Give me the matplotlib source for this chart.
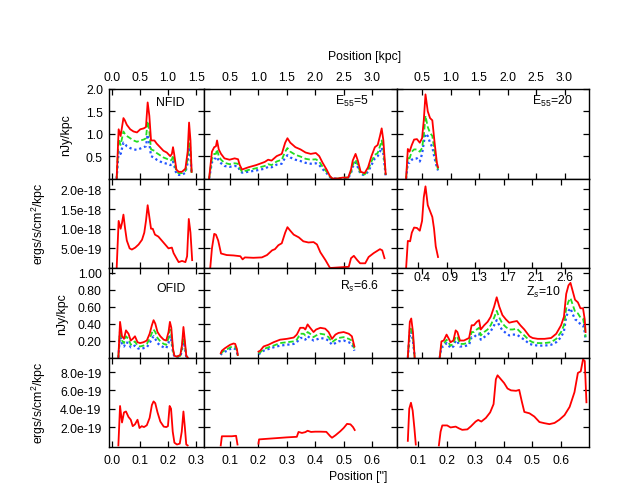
import numpy as np
import matplotlib
matplotlib.use('Agg')
import matplotlib.pyplot as plt

plt.rcParams['font.family'] = ['Liberation Sans', 'DejaVu Sans']
plt.rcParams['font.size'] = 8.8
plt.rcParams['mathtext.fontset'] = 'custom'
plt.rcParams['mathtext.rm'] = 'Liberation Sans'
plt.rcParams['mathtext.it'] = 'Liberation Sans:italic'

nan = np.nan

# ---- row 1: flux density [nJy/kpc], x in arcsec ----
nfid_x = [0.018, 0.025, 0.032, 0.042, 0.047, 0.054, 0.066, 0.078, 0.090, 0.102,
          0.114, 0.122, 0.128, 0.134, 0.140, 0.152, 0.160, 0.172, 0.184, 0.196,
          0.208, 0.214, 0.218, 0.222, 0.230, 0.238, 0.250, 0.262, 0.270, 0.275,
          0.280, 0.284]
nfid_red = [0, 1.10, 0.95, 1.35, 1.30, 1.20, 1.10, 1.05, 1.03, 1.10,
            1.12, 1.15, 1.70, 1.40, 0.85, 0.85, 0.78, 0.70, 0.62, 0.58,
            0.50, 0.55, 0.70, 0.55, 0.20, 0.15, 0.15, 0.22, 0.60, 1.25,
            0.85, 0.15]
nfid_green = [0, 0.88, 0.75, 1.05, 1.00, 0.95, 0.90, 0.85, 0.82, 0.85,
              0.87, 0.90, 1.28, 1.05, 0.65, 0.62, 0.57, 0.52, 0.47, 0.44,
              0.40, 0.42, 0.52, 0.42, 0.15, 0.12, 0.12, 0.17, 0.45, 0.92,
              0.65, 0.12]
nfid_blue = [0, 0.62, 0.55, 0.80, 0.78, 0.72, 0.68, 0.65, 0.64, 0.67,
             0.70, 0.72, 0.98, 0.78, 0.50, 0.46, 0.42, 0.38, 0.35, 0.33,
             0.30, 0.32, 0.38, 0.30, 0.10, 0.08, 0.08, 0.13, 0.35, 0.70,
             0.50, 0.10]

e5_x = [0.026, 0.036, 0.044, 0.050, 0.054, 0.060, 0.068, 0.080, 0.098, 0.116,
        0.128, 0.134, 0.142, 0.164, 0.192, 0.222, 0.234, 0.246, 0.264, 0.282,
        0.294, 0.302, 0.312, 0.330, 0.348, 0.366, 0.384, 0.402, 0.414, 0.426,
        0.440, 0.452, 0.460, 0.480, 0.496, 0.516, 0.526, 0.532, 0.542, 0.550,
        0.560, 0.574, 0.586, 0.598, 0.610, 0.620, 0.628, 0.634, 0.640, 0.646,
        0.648]
e5_red = [0, 0.60, 0.70, 0.72, 0.85, 0.65, 0.55, 0.45, 0.42, 0.45,
          0.43, 0.30, 0.20, 0.25, 0.30, 0.37, 0.42, 0.40, 0.50, 0.55,
          0.80, 0.90, 0.80, 0.70, 0.65, 0.58, 0.55, 0.57, 0.50, 0.35,
          0.20, 0.05, 0, 0, 0.02, 0.02, 0.20, 0.40, 0.55, 0.40,
          0.15, 0.12, 0.25, 0.50, 0.70, 0.75, 0.95, 1.12, 0.85, 0.30,
          0.10]
e5_green = [0, 0.45, 0.55, 0.55, 0.65, 0.50, 0.42, 0.35, 0.32, 0.34,
            0.33, 0.23, 0.15, 0.19, 0.23, 0.28, 0.32, 0.30, 0.38, 0.42,
            0.60, 0.68, 0.60, 0.53, 0.49, 0.44, 0.42, 0.43, 0.38, 0.26,
            0.15, 0.04, 0, 0, 0.02, 0.02, 0.15, 0.30, 0.42, 0.30,
            0.11, 0.09, 0.19, 0.38, 0.53, 0.57, 0.72, 0.85, 0.65, 0.23,
            0.08]
e5_blue = [0, 0.36, 0.44, 0.45, 0.48, 0.40, 0.34, 0.28, 0.26, 0.28,
           0.27, 0.18, 0.13, 0.15, 0.18, 0.22, 0.26, 0.25, 0.31, 0.33,
           0.47, 0.52, 0.47, 0.42, 0.39, 0.35, 0.33, 0.34, 0.30, 0.21,
           0.12, 0.03, 0, 0, 0.01, 0.01, 0.12, 0.26, 0.36, 0.25,
           0.09, 0.08, 0.15, 0.30, 0.45, 0.50, 0.60, 0.69, 0.55, 0.19,
           0.06]

e20_x = [0.058, 0.064, 0.070, 0.078, 0.086, 0.096, 0.106, 0.114, 0.120, 0.126,
         0.134, 0.142, 0.150, 0.158, 0.166, 0.170]
e20_red = [0, 0.66, 0.60, 0.75, 0.87, 0.88, 0.80, 0.90, 1.30, 1.88,
           1.50, 1.35, 1.30, 0.80, 0.35, 0.25]
e20_green = [0, 0.50, 0.45, 0.60, 0.65, 0.65, 0.60, 0.68, 0.95, 1.40,
             1.15, 1.02, 0.95, 0.60, 0.30, 0.20]
e20_blue = [0, 0.35, 0.35, 0.42, 0.45, 0.45, 0.38, 0.55, 0.80, 1.00,
            0.95, 0.80, 0.70, 0.45, 0.25, 0.18]

# ---- row 2: ergs/s/cm^2/kpc, in units of 1e-18 ----
nfid_erg_x = [0.018, 0.025, 0.032, 0.037, 0.042, 0.048, 0.054, 0.064, 0.072, 0.084,
              0.096, 0.108, 0.116, 0.122, 0.128, 0.134, 0.140, 0.146, 0.154, 0.166,
              0.178, 0.190, 0.202, 0.214, 0.220, 0.230, 0.238, 0.250, 0.262, 0.268,
              0.274, 0.280, 0.286]
nfid_erg = [0, 1.20, 1.00, 1.15, 1.36, 1.00, 0.70, 0.50, 0.47, 0.52,
            0.60, 0.72, 0.90, 1.20, 1.60, 1.30, 1.00, 1.00, 0.85, 0.80,
            0.70, 0.60, 0.50, 0.52, 0.38, 0.25, 0.15, 0.18, 0.15, 0.30,
            1.25, 0.90, 0.20]

e5_erg_x = [0.030, 0.036, 0.044, 0.050, 0.058, 0.068, 0.088, 0.112, 0.136, 0.144,
            0.152, 0.182, 0.212, 0.230, 0.248, 0.258, 0.270, 0.282, 0.294, 0.302,
            0.312, 0.324, 0.342, 0.358, 0.376, 0.394, 0.406, 0.418, 0.436, 0.452,
            0.494, 0.518, 0.526, 0.536, 0.548, 0.558, 0.576, 0.588, 0.606, 0.628,
            0.636, 0.644]
e5_erg = [0, 0.50, 0.87, 0.85, 0.70, 0.37, 0.33, 0.32, 0.30, 0.22,
          0.27, 0.26, 0.27, 0.33, 0.45, 0.48, 0.58, 0.63, 0.90, 1.04,
          0.95, 0.85, 0.78, 0.68, 0.65, 0.66, 0.60, 0.40, 0.20, 0.0,
          0.02, 0.03, 0.25, 0.31, 0.20, 0.12, 0.12, 0.28, 0.38, 0.48,
          0.45, 0.25]

e20_erg_x = [0.058, 0.064, 0.072, 0.078, 0.086, 0.096, 0.106, 0.114, 0.120, 0.126,
             0.134, 0.142, 0.150, 0.156, 0.162, 0.170]
e20_erg = [0, 0.69, 0.68, 0.90, 1.03, 1.02, 0.95, 1.20, 1.80, 2.08,
           1.60, 1.45, 1.30, 1.00, 0.55, 0.28]

# ---- row 3: flux density [nJy/kpc] ----
ofid_x = [0.024, 0.030, 0.037, 0.044, 0.051, 0.060, 0.068, 0.075, 0.083, 0.092,
          0.101, 0.113, 0.125, 0.135, 0.143, 0.149, 0.155, 0.163, 0.173, 0.185,
          0.194, 0.202, 0.207, 0.212, 0.218, 0.223, 0.232, 0.244, 0.250, 0.255,
          0.260, 0.265, 0.270]
ofid_red = [0, 0.42, 0.25, 0.22, 0.32, 0.28, 0.20, 0.22, 0.25, 0.18,
            0.17, 0.18, 0.20, 0.28, 0.38, 0.44, 0.40, 0.30, 0.25, 0.21,
            0.20, 0.30, 0.42, 0.35, 0.10, 0.02, 0.01, 0.03, 0.15, 0.36,
            0.20, 0.02, 0]
ofid_green = [0, 0.34, 0.20, 0.17, 0.25, 0.22, 0.15, 0.17, 0.19, 0.14,
              0.13, 0.14, 0.16, 0.22, 0.29, 0.33, 0.30, 0.23, 0.19, 0.16,
              0.15, 0.23, 0.33, 0.27, 0.08, 0.02, 0.01, 0.02, 0.12, 0.28,
              0.15, 0.02, 0]
ofid_blue = [0, 0.27, 0.15, 0.13, 0.18, 0.17, 0.12, 0.13, 0.14, 0.11,
             0.10, 0.11, 0.12, 0.17, 0.22, 0.25, 0.22, 0.17, 0.14, 0.12,
             0.11, 0.17, 0.25, 0.20, 0.06, 0.01, 0.01, 0.01, 0.09, 0.21,
             0.12, 0.01, 0]

rs_x = [0.067, 0.071, 0.082, 0.091, 0.100, 0.112, 0.118, 0.124, 0.127, nan,
        0.200, 0.206, 0.218, 0.235, 0.253, 0.276, 0.300, 0.324, 0.335, 0.347,
        0.359, 0.365, 0.373, 0.382, 0.394, 0.403, 0.418, 0.435, 0.447, 0.459,
        0.471, 0.482, 0.500, 0.518, 0.529, 0.538]
rs_red = [0.05, 0.08, 0.11, 0.13, 0.15, 0.165, 0.16, 0.10, 0.03, nan,
          0.07, 0.08, 0.13, 0.15, 0.18, 0.21, 0.22, 0.235, 0.27, 0.35,
          0.35, 0.33, 0.39, 0.35, 0.30, 0.33, 0.35, 0.34, 0.30, 0.22,
          0.27, 0.29, 0.30, 0.28, 0.25, 0.13]
rs_green = [0.04, 0.06, 0.09, 0.10, 0.12, 0.13, 0.13, 0.08, 0.02, nan,
            0.05, 0.06, 0.10, 0.12, 0.14, 0.17, 0.18, 0.19, 0.21, 0.28,
            0.28, 0.26, 0.30, 0.28, 0.24, 0.26, 0.28, 0.27, 0.24, 0.18,
            0.21, 0.23, 0.24, 0.22, 0.20, 0.10]
rs_blue = [0.03, 0.05, 0.07, 0.08, 0.10, 0.11, 0.10, 0.06, 0.02, nan,
           0.04, 0.05, 0.08, 0.10, 0.12, 0.14, 0.15, 0.16, 0.18, 0.23,
           0.23, 0.21, 0.25, 0.23, 0.20, 0.21, 0.23, 0.22, 0.20, 0.15,
           0.17, 0.19, 0.20, 0.18, 0.16, 0.08]

zs_x = [0.064, 0.071, 0.076, 0.082, 0.088, nan,
        0.176, 0.182, 0.190, 0.200, 0.208, 0.214, 0.224, 0.232, 0.238, 0.247,
        0.261, 0.279, 0.288, 0.296, 0.306, 0.314, 0.320, 0.332, 0.344, 0.355,
        0.367, 0.376, 0.385, 0.396, 0.408, 0.420, 0.432, 0.447, 0.459, 0.473,
        0.491, 0.502, 0.520, 0.544, 0.567, 0.585, 0.602, 0.612, 0.620, 0.628,
        0.635, 0.643, 0.651, 0.661, 0.670, 0.679, 0.685, 0.688]
zs_red = [0, 0.42, 0.46, 0.30, 0.0, nan,
          0.0, 0.19, 0.20, 0.27, 0.22, 0.18, 0.20, 0.32, 0.30, 0.20,
          0.20, 0.23, 0.38, 0.38, 0.42, 0.44, 0.33, 0.38, 0.42, 0.48,
          0.60, 0.71, 0.60, 0.50, 0.45, 0.41, 0.42, 0.43, 0.38, 0.33,
          0.25, 0.23, 0.22, 0.22, 0.23, 0.28, 0.38, 0.48, 0.75, 0.85,
          0.88, 0.78, 0.68, 0.65, 0.58, 0.58, 0.45, 0.30]
zs_green = [0, 0.33, 0.36, 0.24, 0.0, nan,
            0.0, 0.15, 0.16, 0.21, 0.17, 0.14, 0.16, 0.25, 0.24, 0.16,
            0.16, 0.18, 0.30, 0.30, 0.33, 0.35, 0.26, 0.30, 0.33, 0.38,
            0.47, 0.55, 0.47, 0.40, 0.36, 0.33, 0.33, 0.34, 0.30, 0.26,
            0.20, 0.18, 0.17, 0.17, 0.18, 0.22, 0.30, 0.38, 0.58, 0.66,
            0.70, 0.62, 0.54, 0.52, 0.47, 0.46, 0.36, 0.24]
zs_blue = [0, 0.27, 0.30, 0.20, 0.0, nan,
           0.0, 0.12, 0.13, 0.17, 0.14, 0.11, 0.13, 0.20, 0.19, 0.13,
           0.13, 0.15, 0.24, 0.24, 0.27, 0.28, 0.21, 0.24, 0.27, 0.31,
           0.38, 0.44, 0.38, 0.32, 0.29, 0.26, 0.27, 0.27, 0.24, 0.21,
           0.16, 0.15, 0.14, 0.14, 0.15, 0.18, 0.24, 0.31, 0.48, 0.55,
           0.58, 0.51, 0.45, 0.43, 0.39, 0.38, 0.30, 0.20]

# ---- row 4: ergs/s/cm^2/kpc, in units of 1e-19 ----
ofid_erg_x = [0.024, 0.030, 0.037, 0.044, 0.051, 0.060, 0.068, 0.075, 0.083, 0.092,
              0.099, 0.107, 0.115, 0.125, 0.135, 0.143, 0.149, 0.155, 0.163, 0.173,
              0.185, 0.194, 0.200, 0.206, 0.211, 0.217, 0.223, 0.232, 0.242, 0.249,
              0.255, 0.260, 0.265, 0.270]
ofid_erg = [0, 4.3, 2.5, 3.6, 3.7, 3.1, 2.8, 2.1, 2.3, 2.8,
            1.9, 2.1, 2.0, 2.2, 3.0, 4.4, 4.8, 4.6, 3.6, 2.6,
            2.05, 2.0, 2.1, 4.3, 4.0, 1.5, 0.3, 0.1, 0.2, 1.5,
            3.7, 2.0, 0.1, 0]

rs_erg_x = [0.067, 0.071, 0.088, 0.106, 0.121, 0.126, nan,
            0.200, 0.202, 0.229, 0.265, 0.300, 0.335, 0.341, 0.353, 0.365, 0.373,
            0.385, 0.400, 0.418, 0.439, 0.453, 0.459, 0.471, 0.488, 0.500, 0.512,
            0.524, 0.533, 0.539]
rs_erg = [0, 1.0, 1.0, 1.0, 1.05, 0.1, nan,
          0.2, 0.66, 0.72, 0.80, 0.88, 0.94, 1.47, 1.36, 1.45, 1.6,
          1.47, 1.5, 1.5, 1.48, 1.0, 0.84, 1.1, 1.54, 1.9, 2.35,
          2.3, 2.0, 1.68]

zs_erg_x = [0.064, 0.069, 0.075, 0.081, 0.087, 0.092, nan,
            0.173, 0.179, 0.185, 0.202, 0.214, 0.232, 0.244, 0.255, 0.273, 0.285,
            0.302, 0.311, 0.322, 0.338, 0.353, 0.365, 0.373, 0.379, 0.391, 0.402,
            0.414, 0.426, 0.444, 0.455, 0.464, 0.473, 0.491, 0.508, 0.526, 0.544,
            0.561, 0.579, 0.596, 0.614, 0.632, 0.649, 0.661, 0.671, 0.679, 0.685,
            0.691]
zs_erg = [0.5, 4.0, 4.65, 3.8, 1.9, 0.1, nan,
          0.0, 1.5, 2.18, 2.18, 1.96, 2.05, 1.85, 1.7, 1.75, 2.07,
          2.6, 2.78, 2.6, 3.0, 3.6, 4.5, 7.2, 7.64, 7.2, 6.8,
          6.2, 6.0, 5.95, 6.05, 4.8, 3.65, 3.5, 3.15, 2.55, 2.42,
          2.32, 2.45, 2.8, 3.3, 4.2, 5.8, 7.9, 8.07, 9.37, 9.2,
          4.7]

panel_labels = [['NFID', 'E$_{55}$=5', 'E$_{55}$=20'],
                ['OFID', 'R$_s$=6.6', 'Z$_s$=10']]
kpc_labels_c1 = ['0.0', '0.5', '1.0', '1.5']
kpc_labels = ['0.5', '1.0', '1.5', '2.0', '2.5', '3.0']
kpc_labels_zs = ['0.4', '0.9', '1.3', '1.7', '2.1', '2.6']
arcsec_labels_c1 = ['0.0', '0.1', '0.2', '0.3']
arcsec_labels = ['0.1', '0.2', '0.3', '0.4', '0.5', '0.6']

RED, GREEN, BLUE = '#ff0000', '#22dd22', '#2255ff'

W, H = 639, 489
fig = plt.figure(figsize=(W / 100, H / 100), dpi=100)
col_px = [108.5, 204, 397, 589]
row_px = [90, 179.5, 269, 358.5, 448]
xlims = [(-0.011, 0.328), (0.008, 0.688), (0.026, 0.700)]
xt_bottom = [[0.0, 0.1, 0.2, 0.3], [0.1, 0.2, 0.3, 0.4, 0.5, 0.6],
             [0.1, 0.2, 0.3, 0.4, 0.5, 0.6]]
xt_top = [[0.0, 0.1, 0.2, 0.3], [0.1, 0.2, 0.3, 0.4, 0.5, 0.6],
          [0.114, 0.214, 0.314, 0.414, 0.514, 0.614]]

axes = [[None] * 3 for _ in range(4)]
for r in range(4):
    for c in range(3):
        x0, x1 = col_px[c], col_px[c + 1]
        y0, y1 = row_px[r], row_px[r + 1]
        ax = fig.add_axes([x0 / W, 1 - y1 / H, (x1 - x0) / W, (y1 - y0) / H])
        ax.set_xlim(*xlims[c])
        for s in ax.spines.values():
            s.set_linewidth(1.0)
        ax.tick_params(direction='in', top=True, right=True, length=4.5,
                       width=0.9, labelbottom=False, labelleft=False,
                       colors='black', labelsize=8.8)
        ax.set_xticks(xt_bottom[c] if r > 0 else xt_top[c])
        axes[r][c] = ax

# row settings
ylims = [(0, 2.0), (0, 2.28e-18), (0, 1.055), (-0.17e-19, 9.58e-19)]
yticks = [[0.5, 1.0, 1.5, 2.0],
          [5e-19, 1e-18, 1.5e-18, 2e-18],
          [0.2, 0.4, 0.6, 0.8, 1.0],
          [2e-19, 4e-19, 6e-19, 8e-19]]
yticklabels = [['0.5', '1.0', '1.5', '2.0'],
               ['5.0e-19', '1.0e-18', '1.5e-18', '2.0e-18'],
               ['0.20', '0.40', '0.60', '0.80', '1.00'],
               ['2.0e-19', '4.0e-19', '6.0e-19', '8.0e-19']]
for r in range(4):
    for c in range(3):
        ax = axes[r][c]
        ax.set_ylim(*ylims[r])
        ax.set_yticks(yticks[r])
    axes[r][0].set_yticklabels(yticklabels[r])
    axes[r][0].tick_params(labelleft=True, pad=5)

# top kpc labels
axes[0][0].set_xticklabels(kpc_labels_c1)
for c in (1, 2):
    axes[0][c].set_xticklabels(kpc_labels)
for c in range(3):
    axes[0][c].tick_params(labeltop=True, pad=4)

# bottom arcsec labels
axes[3][0].set_xticklabels(arcsec_labels_c1)
for c in (1, 2):
    axes[3][c].set_xticklabels(arcsec_labels)
for c in range(3):
    axes[3][c].tick_params(labelbottom=True, pad=5)

# inside top labels for Zs panel
axz = axes[2][2]
axz.set_xticks(xt_top[2])
axz.set_xticklabels(kpc_labels_zs)
axz.tick_params(labeltop=True, pad=-10.5)


def three(ax, x, red, green, blue):
    ax.plot(x, blue, color=BLUE, lw=1.6, ls=(0, (1, 1.3)))
    ax.plot(x, green, color=GREEN, lw=1.3, ls=(0, (3, 1.5)))
    ax.plot(x, red, color=RED, lw=1.3)


three(axes[0][0], nfid_x, nfid_red, nfid_green, nfid_blue)
three(axes[0][1], e5_x, e5_red, e5_green, e5_blue)
three(axes[0][2], e20_x, e20_red, e20_green, e20_blue)
axes[1][0].plot(nfid_erg_x, np.array(nfid_erg) * 1e-18, color=RED, lw=1.3)
axes[1][1].plot(e5_erg_x, np.array(e5_erg) * 1e-18, color=RED, lw=1.3)
axes[1][2].plot(e20_erg_x, np.array(e20_erg) * 1e-18, color=RED, lw=1.3)
three(axes[2][0], ofid_x, ofid_red, ofid_green, ofid_blue)
three(axes[2][1], rs_x, rs_red, rs_green, rs_blue)
three(axes[2][2], zs_x, zs_red, zs_green, zs_blue)
axes[3][0].plot(ofid_erg_x, np.array(ofid_erg) * 1e-19, color=RED, lw=1.3)
axes[3][1].plot(rs_erg_x, np.array(rs_erg) * 1e-19, color=RED, lw=1.3)
axes[3][2].plot(zs_erg_x, np.array(zs_erg) * 1e-19, color=RED, lw=1.3)

# panel annotations
axes[0][0].text(0.652, 0.818, panel_labels[0][0], transform=axes[0][0].transAxes,
                ha='center', va='baseline')
axes[0][1].text(0.851, 0.835, panel_labels[0][1], transform=axes[0][1].transAxes,
                ha='right', va='baseline')
axes[0][2].text(0.915, 0.835, panel_labels[0][2], transform=axes[0][2].transAxes,
                ha='right', va='baseline')
axes[2][0].text(0.652, 0.745, panel_labels[1][0], transform=axes[2][0].transAxes,
                ha='center', va='baseline')
axes[2][1].text(0.907, 0.763, panel_labels[1][1], transform=axes[2][1].transAxes,
                ha='right', va='baseline')
axes[2][2].text(0.853, 0.704, panel_labels[1][2], transform=axes[2][2].transAxes,
                ha='right', va='baseline')

# axis titles
fig.text(365 / W, 1 - 56.7 / H, 'Position [kpc]', ha='center', va='center')
fig.text(358 / W, 1 - 476.7 / H, 'Position ["]', ha='center', va='center')
for r, lab, xp in [(0, 'nJy/kpc', 66), (1, 'ergs/s/cm$^2$/kpc', 39),
                   (2, 'nJy/kpc', 62), (3, 'ergs/s/cm$^2$/kpc', 39)]:
    yc = (row_px[r] + row_px[r + 1]) / 2
    fig.text(xp / W, 1 - yc / H, lab, rotation=90, ha='center', va='center')

fig.savefig('out.png', dpi=100)
